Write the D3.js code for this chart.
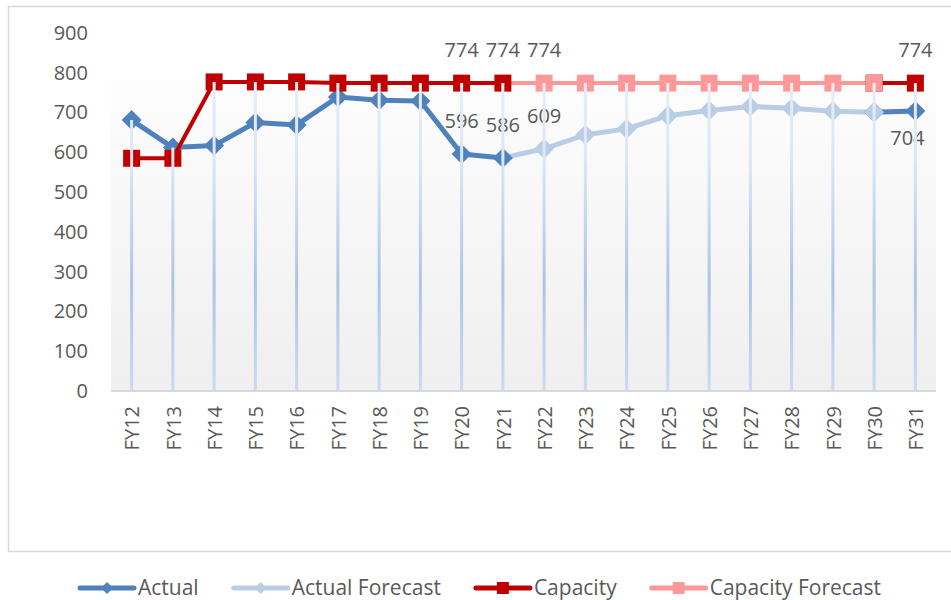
<!DOCTYPE html>
<html>
<head>
<meta charset="utf-8">
<script src="https://cdn.jsdelivr.net/npm/d3@7"></script>
<style>
  body { margin: 0; background: #fff; }
  text { font-family: 'Open Sans', sans-serif; fill: #595959; }
</style>
</head>
<body>
<svg id="chart" width="951" height="600"></svg>
<script>
// Chart data
const categories = ['FY12', 'FY13', 'FY14', 'FY15', 'FY16', 'FY17', 'FY18', 'FY19', 'FY20', 'FY21',
    'FY22', 'FY23', 'FY24', 'FY25', 'FY26', 'FY27', 'FY28', 'FY29', 'FY30', 'FY31'];
const actual = [681, 612, 617, 675, 669, 739, 731, 729, 596, 586,
    null, null, null, null, null, null, null, null, 701, 704];
const actualForecast = [null, null, null, null, null, null, null, null, null, 586,
    609, 644, 659, 692, 705, 715, 711, 703, 701, null];
const capacity = [585, 585, 777, 777, 777, 774, 774, 774, 774, 774,
    null, null, null, null, null, null, null, null, 774, 774];
const capacityForecast = [null, null, null, null, null, null, null, null, null, 774,
    774, 774, 774, 774, 774, 774, 774, 774, 774, null];
const yTicks = [0, 100, 200, 300, 400, 500, 600, 700, 800, 900];
const seriesNames = ['Actual', 'Actual Forecast', 'Capacity', 'Capacity Forecast'];

// Which points carry a value label: [series index, category]
const labelled = [
    [2, 'FY20'], [2, 'FY21'], [3, 'FY22'], [2, 'FY31'],
    [0, 'FY20'], [0, 'FY21'], [1, 'FY22'], [0, 'FY31']
];

const plot = { left: 111, right: 936, top: 33, bottom: 391 };

const series = [
    { name: seriesNames[0], values: actual, color: '#4f81bd', width: 5, marker: 'diamond', forecast: false },
    { name: seriesNames[1], values: actualForecast, color: '#b9cde5', width: 5, marker: 'diamond', forecast: true },
    { name: seriesNames[2], values: capacity, color: '#c00000', width: 4, marker: 'square', forecast: false },
    { name: seriesNames[3], values: capacityForecast, color: '#ff9999', width: 4, marker: 'square', forecast: true }
];

const svg = d3.select('#chart');

const xScale = d3.scalePoint()
    .domain(categories)
    .range([plot.left, plot.right])
    .padding(0.5);

const yScale = d3.scaleLinear()
    .domain([0, 900])
    .range([plot.bottom, plot.top]);

const defs = svg.append('defs');

// plot area fill, white fading to light grey
const bg = defs.append('linearGradient')
    .attr('id', 'plotFill')
    .attr('x1', 0).attr('y1', 0).attr('x2', 0).attr('y2', 1);
bg.append('stop').attr('offset', 0).attr('stop-color', '#fdfdfd');
bg.append('stop').attr('offset', 1).attr('stop-color', '#efefef');

// drop lines are pale at top and stronger lower down
const dl = defs.append('linearGradient')
    .attr('id', 'dropFill')
    .attr('gradientUnits', 'userSpaceOnUse')
    .attr('x1', 0).attr('y1', plot.top).attr('x2', 0).attr('y2', plot.bottom);
dl.append('stop').attr('offset', 0).attr('stop-color', '#eef2f9');
dl.append('stop').attr('offset', 0.35).attr('stop-color', '#dce6f4');
dl.append('stop').attr('offset', 0.7).attr('stop-color', '#adc4e7');
dl.append('stop').attr('offset', 1).attr('stop-color', '#cbdaef');

// chart frame
svg.append('rect')
    .attr('x', 8.5).attr('y', 6.5)
    .attr('width', 960).attr('height', 545)
    .attr('fill', 'none')
    .attr('stroke', '#d9d9d9')
    .attr('stroke-width', 1.5);

svg.append('rect')
    .attr('x', plot.left).attr('y', 80)
    .attr('width', plot.right - plot.left)
    .attr('height', plot.bottom - 80)
    .attr('fill', 'url(#plotFill)');

svg.append('line')
    .attr('x1', plot.left).attr('x2', plot.right)
    .attr('y1', plot.bottom).attr('y2', plot.bottom)
    .attr('stroke', '#d9d9d9')
    .attr('stroke-width', 2);

// Y axis
svg.append('g')
    .attr('transform', 'translate(' + plot.left + ',0)')
    .call(d3.axisLeft(yScale).tickValues(yTicks).tickSize(0).tickPadding(23))
    .call(g => g.select('.domain').remove())
    .selectAll('text')
    .attr('font-size', 20)
    .attr('font-family', null)
    .attr('fill', '#595959');

// X axis, labels turned upright
svg.append('g')
    .attr('transform', 'translate(0,' + plot.bottom + ')')
    .call(d3.axisBottom(xScale).tickSize(0))
    .call(g => g.select('.domain').remove())
    .selectAll('text')
    .attr('font-size', 20)
    .attr('font-family', null)
    .attr('fill', '#595959')
    .attr('text-anchor', 'end')
    .attr('transform', 'rotate(-90)')
    .attr('x', -15)
    .attr('y', 0)
    .attr('dy', '0.36em');

const line = d3.line()
    .defined(d => d.v != null)
    .x(d => xScale(d.c))
    .y(d => yScale(d.v));

function points(s) {
    return s.values.map((v, i) => ({ c: categories[i], v: v }));
}

function markerPath(type, r) {
    if (type === 'diamond') return 'M0,' + (-r) + 'L' + r + ',0L0,' + r + 'L' + (-r) + ',0Z';
    return 'M' + (-r) + ',' + (-r) + 'H' + r + 'V' + r + 'H' + (-r) + 'Z';
}

// draw line pairs (actual + forecast), then their markers
[[series[0], series[1]], [series[2], series[3]]].forEach(pair => {
    pair.forEach(s => {
        svg.append('path')
            .datum(points(s))
            .attr('fill', 'none')
            .attr('stroke', s.color)
            .attr('stroke-width', s.width)
            .attr('stroke-linejoin', 'round')
            .attr('d', line);
    });
    pair.forEach(s => {
        let pts = points(s).filter(d => d.v != null);
        // forecast joins on to the last actual point, that marker stays dark
        if (s.forecast) pts = pts.slice(1);
        svg.append('g')
            .selectAll('path')
            .data(pts)
            .enter()
            .append('path')
            .attr('transform', d => 'translate(' + xScale(d.c) + ',' + yScale(d.v) + ')')
            .attr('d', markerPath(s.marker, s.marker === 'diamond' ? 10 : 8.5))
            .attr('fill', s.color);
    });
});

// value labels
svg.append('g')
    .selectAll('text')
    .data(labelled)
    .enter()
    .append('text')
    .attr('x', d => xScale(d[1]) + (d[1] === 'FY31' && d[0] === 0 ? -8 : 0))
    .attr('y', d => {
        const v = series[d[0]].values[categories.indexOf(d[1])];
        return yScale(v) + (d[0] === 0 && d[1] === 'FY31' ? 27 : -33);
    })
    .attr('dy', '0.36em')
    .attr('text-anchor', 'middle')
    .attr('font-size', 20)
    .text(d => series[d[0]].values[categories.indexOf(d[1])]);

// drop lines from the highest point of each category to the axis
svg.append('g')
    .selectAll('line')
    .data(categories)
    .enter()
    .append('line')
    .attr('x1', d => xScale(d))
    .attr('x2', d => xScale(d))
    .attr('y1', (d, i) => yScale(d3.max(series, s => s.values[i])))
    .attr('y2', plot.bottom)
    .attr('stroke', 'url(#dropFill)')
    .attr('stroke-width', 3);

// Legend
const legend = svg.append('g')
    .attr('transform', 'translate(80,588)');
let lx = 0;
series.forEach(s => {
    const item = legend.append('g').attr('transform', 'translate(' + lx + ',0)');
    item.append('line')
        .attr('x1', 0).attr('x2', 54)
        .attr('stroke', s.color)
        .attr('stroke-width', 5)
        .attr('stroke-linecap', 'round');
    item.append('path')
        .attr('transform', 'translate(27,0)')
        .attr('d', markerPath(s.marker, 6))
        .attr('fill', s.color);
    const t = item.append('text')
        .attr('x', 58)
        .attr('dy', '0.34em')
        .attr('font-size', 21)
        .text(s.name);
    lx += 58 + t.node().getComputedTextLength() + 35;
});
</script>
</body>
</html>
